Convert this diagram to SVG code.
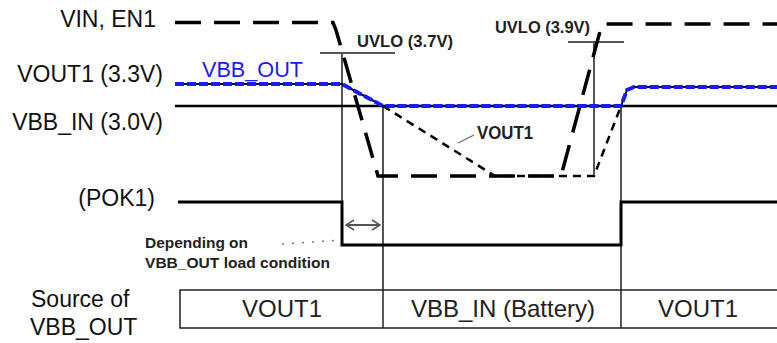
<svg xmlns="http://www.w3.org/2000/svg" width="777" height="343" viewBox="0 0 777 343">
<style>
.lbl{font-family:"Liberation Sans",Arial,sans-serif;font-size:23px;fill:#111}
.sm{font-family:"Liberation Sans",Arial,sans-serif;font-weight:bold;fill:#222}
.tbl{font-family:"Liberation Sans",Arial,sans-serif;font-size:24px;fill:#222;text-anchor:middle}
.mk{stroke:#555;stroke-width:2;fill:none}
.vin{stroke:#000;stroke-width:3.5;fill:none;stroke-dasharray:26 13}
.vout{stroke:#000;stroke-width:2.5;fill:none;stroke-dasharray:8 6}
.sol{stroke:#000;stroke-width:2.5;fill:none}
.blue{stroke:#1a1aff;stroke-width:4;fill:none;stroke-dasharray:9 3}
.tb{stroke:#222;stroke-width:1.5;fill:none}
</style>
<defs>
<marker id="ah" markerWidth="10" markerHeight="12" refX="9" refY="6" orient="auto-start-reverse" markerUnits="userSpaceOnUse">
<polyline points="1,1 9,6 1,11" fill="none" stroke="#555" stroke-width="1.5"/>
</marker>
</defs>
<g id="labels">
<text class="lbl" x="156" y="27" text-anchor="end">VIN, EN1</text>
<text class="lbl" x="163" y="82" text-anchor="end">VOUT1 (3.3V)</text>
<text class="lbl" x="163" y="130" text-anchor="end">VBB_IN (3.0V)</text>
<text class="lbl" x="155" y="206" text-anchor="end">(POK1)</text>
<text class="lbl" x="31" y="307">Source of</text>
<text class="lbl" x="30" y="335">VBB_OUT</text>
</g>
<g id="markers">
<line class="mk" x1="320" y1="53" x2="395" y2="53"/>
<line class="mk" x1="342" y1="53" x2="342" y2="202"/>
<line class="mk" x1="383" y1="107" x2="383" y2="290"/>
<line class="mk" x1="568" y1="42" x2="624" y2="42"/>
<line class="mk" x1="594" y1="42" x2="594" y2="177"/>
<line class="mk" x1="621" y1="106" x2="621" y2="290"/>
<line class="mk" x1="346" y1="225" x2="380" y2="225" stroke-width="1.5" marker-start="url(#ah)" marker-end="url(#ah)"/>
<polyline points="282,244 342,240" fill="none" stroke="#777" stroke-width="1.5" stroke-dasharray="2 8"/>
<line x1="458" y1="143" x2="474" y2="135" stroke="#666" stroke-width="1.2"/>
</g>
<g id="signals">
<line class="sol" x1="175" y1="106" x2="777" y2="106"/>
<polyline class="vin" points="175,22.5 333,22.5 336,30 378,176 561,176 602,24 777,24"/>
<polyline class="vout" points="383,106 495,176 594,176 621,106"/>
<polyline points="178,202 342,202 342,245 621,245 621,202 777,202" fill="none" stroke="#000" stroke-width="3"/>
<polyline points="175,84 342,84 383,106 621,106 627,90 634,87 777,87" fill="none" stroke="#000" stroke-width="2"/>
<polyline class="blue" points="175,84 342,84 383,106 621,106 627,90 634,87 777,87"/>
</g>
<g id="texts">
<text x="202" y="77" font-family="Liberation Sans, Arial, sans-serif" font-size="22" fill="#1a1aff" textLength="101" lengthAdjust="spacingAndGlyphs">VBB_OUT</text>
<text class="sm" x="357" y="47" font-size="17" textLength="96" lengthAdjust="spacingAndGlyphs">UVLO (3.7V)</text>
<text class="sm" x="495" y="33" font-size="17" textLength="95" lengthAdjust="spacingAndGlyphs">UVLO (3.9V)</text>
<text class="sm" x="477" y="139" font-size="18" textLength="56" lengthAdjust="spacingAndGlyphs">VOUT1</text>
<text class="sm" x="145" y="248" font-size="15" textLength="103" lengthAdjust="spacingAndGlyphs">Depending on</text>
<text class="sm" x="145" y="268" font-size="15" textLength="185" lengthAdjust="spacingAndGlyphs">VBB_OUT load condition</text>
</g>
<g id="table">
<polyline class="tb" points="777,290 180,290 180,328 777,328"/>
<line class="tb" x1="383" y1="290" x2="383" y2="328"/>
<line class="tb" x1="621" y1="290" x2="621" y2="328"/>
<text class="tbl" x="282" y="317">VOUT1</text>
<text class="tbl" x="503" y="317">VBB_IN (Battery)</text>
<text class="tbl" x="698" y="317">VOUT1</text>
</g>
</svg>
